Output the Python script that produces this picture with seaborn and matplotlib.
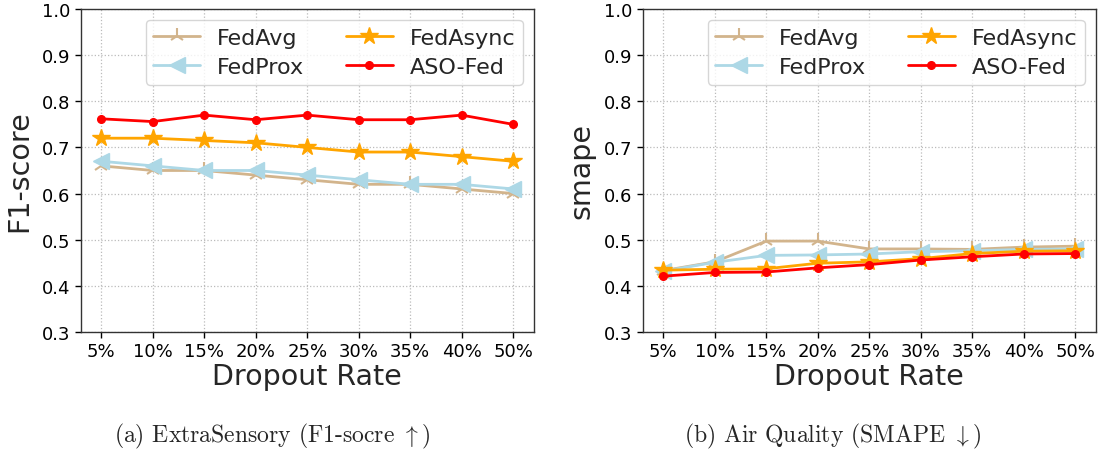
import matplotlib
matplotlib.use("Agg")
import matplotlib.pyplot as plt
import seaborn as sns
import pandas as pd

# Dropout rates on the x axis
rates = ["5%", "10%", "15%", "20%", "25%", "30%", "35%", "40%", "50%"]
methods = ["FedAvg", "FedProx", "FedAsync", "ASO-Fed"]

# ExtraSensory: F1-score
f1_fedavg = [0.66, 0.65, 0.65, 0.64, 0.63, 0.62, 0.62, 0.61, 0.60]
f1_fedprox = [0.67, 0.66, 0.65, 0.65, 0.64, 0.63, 0.62, 0.62, 0.61]
f1_fedasync = [0.72, 0.72, 0.715, 0.71, 0.70, 0.69, 0.69, 0.68, 0.67]
f1_asofed = [0.762, 0.756, 0.77, 0.76, 0.77, 0.76, 0.76, 0.77, 0.75]

# Air Quality: SMAPE
sm_fedavg = [0.433, 0.452, 0.497, 0.497, 0.480, 0.480, 0.479, 0.484, 0.486]
sm_fedprox = [0.432, 0.451, 0.466, 0.467, 0.469, 0.474, 0.476, 0.479, 0.480]
sm_fedasync = [0.434, 0.436, 0.437, 0.449, 0.452, 0.459, 0.470, 0.475, 0.476]
sm_asofed = [0.421, 0.429, 0.430, 0.439, 0.446, 0.456, 0.463, 0.469, 0.470]

y_ticks = [0.3, 0.4, 0.5, 0.6, 0.7, 0.8, 0.9, 1.0]

styles = {
    "FedAvg": dict(color="#D2B48C", marker="2", markersize=11, mew=1.5),
    "FedProx": dict(color="#ADD8E6", marker="<", markersize=12, mew=1),
    "FedAsync": dict(color="#FFA500", marker="*", markersize=13, mew=1),
    "ASO-Fed": dict(color="#FF0000", marker="o", markersize=5.5, mew=1),
}

sns.set_style("white")
plt.rcParams["font.family"] = ["DejaVu Sans"]
plt.rcParams["mathtext.fontset"] = "cm"

fig = plt.figure(figsize=(11.04, 4.52), dpi=100)
ax1 = fig.add_axes([0.0731, 0.2633, 0.4103, 0.7146])
ax2 = fig.add_axes([0.5822, 0.2633, 0.4103, 0.7146])


def make_frame(series):
    rows = []
    for name, vals in zip(methods, series):
        for i, v in enumerate(vals):
            rows.append({"pos": i, "value": v, "method": name})
    return pd.DataFrame(rows)


panels = [
    (ax1, [f1_fedavg, f1_fedprox, f1_fedasync, f1_asofed], "F1-score"),
    (ax2, [sm_fedavg, sm_fedprox, sm_fedasync, sm_asofed], "smape"),
]

for ax, series, ylab in panels:
    df = make_frame(series)
    for name in methods:
        st = styles[name]
        sns.lineplot(
            data=df[df["method"] == name], x="pos", y="value", ax=ax,
            color=st["color"], marker=st["marker"], markersize=st["markersize"],
            markeredgewidth=st["mew"], markeredgecolor=st["color"],
            linewidth=2, label=name, errorbar=None,
        )
    ax.set_xlim(-0.4, len(rates) - 1 + 0.4)
    ax.set_ylim(0.3, 1.0)
    ax.set_xticks(range(len(rates)))
    ax.set_xticklabels(rates)
    ax.set_yticks(y_ticks)
    ax.set_yticklabels([f"{t:.1f}" for t in y_ticks])
    ax.tick_params(axis="both", labelsize=13, length=4, width=1,
                   direction="out", bottom=True, left=True, colors="black")
    ax.grid(True, linestyle=":", color="#BBBBBB", linewidth=0.9)
    for sp in ax.spines.values():
        sp.set_color("#333333")
        sp.set_linewidth(1.0)
    ax.set_xlabel("Dropout Rate", fontsize=20.5, labelpad=1)
    ax.set_ylabel(ylab, fontsize=20.5, labelpad=6)
    leg = ax.legend(ncol=2, loc="upper right", fontsize=16, handlelength=2.1,
                    columnspacing=1.9, frameon=True, fancybox=True,
                    borderpad=0.35, labelspacing=0.42, handletextpad=0.75,
                    borderaxespad=0.0, bbox_to_anchor=(0.976, 0.966))
    leg.get_frame().set_edgecolor("#CCCCCC")
    leg.get_frame().set_linewidth(1.0)

fig.text(0.2466, 0.035, r"(a) ExtraSensory (F1-socre $\uparrow$)",
         family=["cmr10", "DejaVu Serif"], fontsize=17, ha="center", va="center")
fig.text(0.7545, 0.035, r"(b) Air Quality (SMAPE $\downarrow$)",
         family=["cmr10", "DejaVu Serif"], fontsize=17, ha="center", va="center")

fig.savefig("out.png", dpi=100)
